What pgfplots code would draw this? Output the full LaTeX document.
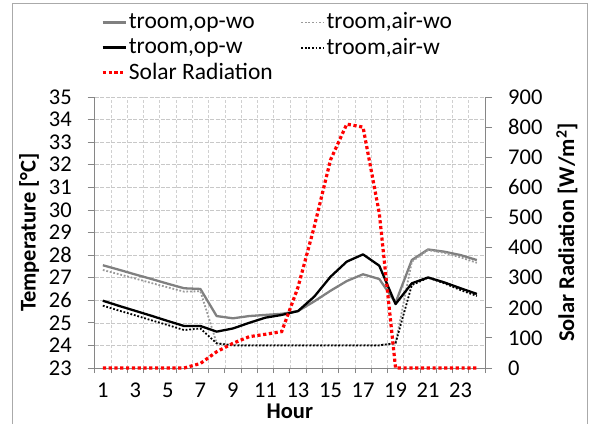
\documentclass[border=0pt]{standalone}
\usepackage{fontspec}
\setmainfont{Carlito}
\usepackage{pgfplots}
\pgfplotsset{compat=1.18}
\definecolor{GridGray}{HTML}{C8C8C8}
\definecolor{AxisGray}{HTML}{868686}
\definecolor{OpWo}{HTML}{808080}
\definecolor{AirWo}{HTML}{9A9A9A}

\pgfplotsset{
  chartbase/.style={
    scale only axis, width=390.3pt, height=271pt,
    at={(0pt,0pt)}, anchor=south west,
    xmin=0.5, xmax=24.5,
    /pgf/number format/assume math mode=true,
    tick label style={font=\fontsize{22.5}{26}\selectfont, inner sep=0pt},
    label style={font=\fontsize{22.5}{26}\selectfont\bfseries, inner sep=0pt},
    axis line style={AxisGray, line width=0.8pt},
    tick style={AxisGray, line width=0.8pt},
    tick align=outside,
    major tick length=7pt,
    minor tick length=5pt,
  },
  opwo/.style={OpWo, line width=2.3pt, line join=round},
  airwo/.style={AirWo, line width=1.8pt, dash pattern=on 1.8pt off 1.8pt},
  opw/.style={black, line width=2.3pt, line join=round},
  airw/.style={black, line width=1.8pt, dash pattern=on 1.8pt off 1.8pt},
  solar/.style={red, line width=3.2pt, dash pattern=on 3.2pt off 2.6pt},
}

\begin{document}
\fontsize{22.5}{26}\selectfont
\begin{tikzpicture}
\useasboundingbox (-94.7pt,-55pt) rectangle (502.3pt,368pt);
\draw[AxisGray!70, line width=0.8pt] (-82.7pt,-60pt) -- (-82.7pt,365pt) -- (492.3pt,365pt) -- (492.3pt,-60pt);

\begin{axis}[chartbase,
  ymin=23, ymax=35, ytick={23,24,...,35},
  axis x line*=bottom, axis y line*=left,
  xtick={1,3,...,23},
  minor xtick={0.5,1.5,...,24.5},
  major x tick style={draw=none},
  xminorgrids=true, ymajorgrids=true,
  major grid style={GridGray, dash pattern=on 4pt off 1.5pt, line width=0.6pt},
  minor grid style={GridGray!85, dash pattern=on 3pt off 2pt, line width=0.6pt},
  xticklabel style={anchor=center, yshift=-15pt},
  yticklabel style={anchor=east, xshift=-15.7pt},
  xlabel={Hour},
  ylabel={Temperature [°C]},
  xlabel style={at={(axis description cs:0.5,-0.158)}, anchor=center},
  ylabel style={at={(axis description cs:-0.168,0.5)}, anchor=center},
  legend columns=2,
  legend cell align=left,
  legend image code/.code={\draw[#1] (0pt,0pt) -- (23pt,0pt);},
  legend style={draw=none, fill=none, inner sep=0pt,
    at={(axis description cs:0.016,1.317)}, anchor=north west,
    font=\fontsize{23.5}{27}\selectfont, row sep=2.5pt,
    nodes={inner sep=1.5pt},
    /tikz/every even column/.append style={column sep=26pt}},
]
\addplot[opwo] coordinates {
(1,27.55) (2,27.35) (3,27.14) (4,26.94) (5,26.73) (6,26.53) (7,26.50) (8,25.30)
(9,25.20) (10,25.30) (11,25.35) (12,25.40) (13,25.52) (14,25.95) (15,26.42) (16,26.85)
(17,27.15) (18,26.94) (19,25.89) (20,27.78) (21,28.25) (22,28.15) (23,28.00) (24,27.78)};
\addlegendentry{troom,op-wo}
\addplot[airwo] coordinates {
(1,27.34) (2,27.15) (3,26.96) (4,26.76) (5,26.57) (6,26.38) (7,26.40) (8,24.10)
(9,24.02) (10,24.02) (11,24.02) (12,24.02) (13,24.02) (14,24.02) (15,24.02) (16,24.02)
(17,24.02) (18,24.02) (19,24.10) (20,27.71) (21,28.22) (22,28.10) (23,27.90) (24,27.66)};
\addlegendentry{troom,air-wo}
\addplot[opw] coordinates {
(1,25.98) (2,25.75) (3,25.53) (4,25.31) (5,25.08) (6,24.86) (7,24.86) (8,24.61)
(9,24.75) (10,25.00) (11,25.23) (12,25.35) (13,25.52) (14,26.16) (15,27.04) (16,27.71)
(17,28.03) (18,27.53) (19,25.83) (20,26.75) (21,27.01) (22,26.79) (23,26.53) (24,26.28)};
\addlegendentry{troom,op-w}
\addplot[airw] coordinates {
(1,25.76) (2,25.54) (3,25.33) (4,25.11) (5,24.90) (6,24.68) (7,24.75) (8,24.09)
(9,24.00) (10,24.00) (11,24.00) (12,24.00) (13,24.00) (14,24.00) (15,24.00) (16,24.00)
(17,24.00) (18,24.00) (19,24.10) (20,26.67) (21,27.00) (22,26.75) (23,26.45) (24,26.19)};
\addlegendentry{troom,air-w}
\addlegendimage{solar}
\addlegendentry{Solar Radiation}
\end{axis}

\begin{axis}[chartbase,
  ymin=0, ymax=900, ytick={0,100,...,900},
  axis y line*=right, axis x line=none,
  clip=false,
  yticklabel style={anchor=west, xshift=16pt},
  ylabel={Solar Radiation [W/m\textsuperscript{2}]},
  ylabel style={at={(axis description cs:1.21,0.5)}, anchor=center, rotate=0},
]
\addplot[solar] coordinates {
(1,0) (2,0) (3,0) (4,0) (5,0) (6,0) (7,15) (8,54)
(9,82) (10,104) (11,112) (12,121) (13,268) (14,469) (15,691) (16,810)
(17,800) (18,514) (19,0) (20,0) (21,0) (22,0) (23,0) (24,0)};
\end{axis}
\end{tikzpicture}
\end{document}
